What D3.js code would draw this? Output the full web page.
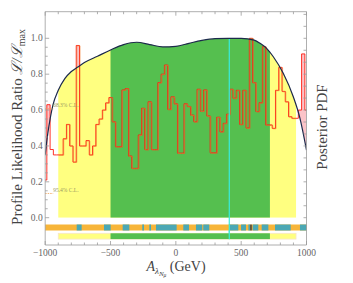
<!DOCTYPE html>
<html>
<head>
<meta charset="utf-8">
<script src="https://cdn.jsdelivr.net/npm/d3@7"></script>
<style>
  body { margin: 0; background: #fff; }
  svg text { font-family: "Liberation Serif", "DejaVu Serif", serif; }
</style>
</head>
<body>
<svg id="chart" width="353" height="283"></svg>
<script>
// --- data ---
// profile likelihood histogram, bins 25 GeV wide, centred on -1000, -975, ... 1000
const binCenters = d3.range(-1000, 1001, 25);
const profileLike = [
  0.21, 0.63, 0.38, 0.35, 0.35, 0.35, 0.44, 0.52, 0.40, 0.31,
  0.96, 0.40, 0.40, 0.43, 0.35, 0.40, 0.52, 0.55, 0.60, 0.64,
  0.67, 0.535, 0.396, 0.396, 0.712, 0.72, 0.344, 0.275, 0.275, 0.461,
  0.61, 0.38, 0.646, 0.38, 0.38, 0.753, 0.80, 0.851, 0.604, 0.674,
  0.635, 0.36, 0.36, 0.635, 0.62, 0.572, 0.535, 0.716, 0.594, 0.712,
  0.567, 0.362, 0.362, 0.56, 0.479, 0.526, 0.577, 0.716, 0.666, 0.71,
  0.52, 0.71, 0.50, 1.0, 0.753, 0.592, 0.641, 0.953, 0.517, 0.517,
  0.498, 0.71, 0.838, 0.704, 0.646, 0.563, 0.554, 0.554, 0.60, 0.913,
  0.60
];

// posterior pdf (scaled to max 1)
const pdfX = [-1000, -980, -960, -940, -900, -850, -800, -750, -700, -600, -500,
  -400, -300, -200, -100, 0, 100, 200, 300, 400, 500, 600, 645, 700, 746, 822, 899, 950, 1000];
const pdfY = [0.35, 0.47, 0.56, 0.63, 0.71, 0.775, 0.815, 0.84, 0.865, 0.90, 0.935,
  0.965, 0.978, 0.965, 0.952, 0.955, 0.972, 0.988, 0.998, 1.0, 1.0, 0.99, 0.972, 0.94, 0.897, 0.805, 0.674, 0.554, 0.377];

const ci68 = [-500, 720];
const ci95 = [-900, 920];
const bestFit = 409;
const bestFitMarker = 575;

// teal pieces of the orange strip
const tealStart = [-759, -550, -407, -257, -203, -152, 57, 154, 210, 409, 499, 555, 588, 657, 759, 950];
const tealEnd   = [-721, -499, -356, -244, -190, 6, 101, 202, 256, 478, 537, 568, 631, 708, 879, 1000];

const xTicks = [-1000, -500, 0, 500, 1000];
const yTicks = [0, 0.2, 0.4, 0.6, 0.8, 1.0];

// --- setup ---
const svg = d3.select("#chart");
const mLeft = 45.2, mRight = 306.5, mTop = 11.7, mBottom = 245;

const x = d3.scaleLinear().domain([-1000, 1000]).range([mLeft, mRight]);
const y = d3.scaleLinear().domain([0, 1]).range([217.7, 38.3]);
const yR = d3.scaleLinear().domain([0, 6]).range([217.7, 38.3]);

const pdf = pdfX.map((d, i) => ({ x: d, y: pdfY[i] }));
const hist = binCenters.map((d, i) => ({ x: d, y: profileLike[i] }));

const defs = svg.append("defs");
function clipRect(id, x0, x1, y0, y1) {
  defs.append("clipPath").attr("id", id).append("rect")
    .attr("x", x0).attr("y", y0).attr("width", x1 - x0).attr("height", y1 - y0);
}
clipRect("clip95", x(ci95[0]), x(ci95[1]), 0, y(0));
clipRect("clip68", x(ci68[0]), x(ci68[1]), 0, y(0));
clipRect("clipPlot", mLeft, mRight, mTop, mBottom);

// region above the posterior curve
const aboveArea = d3.area().curve(d3.curveMonotoneX)
  .x(d => x(d.x)).y0(mTop).y1(d => y(d.y));
defs.append("clipPath").attr("id", "clipAbove").append("path").attr("d", aboveArea(pdf));

const underArea = d3.area().curve(d3.curveMonotoneX)
  .x(d => x(d.x)).y0(y(0)).y1(d => y(d.y));

// 95% and 68% regions under the curve
svg.append("path").attr("d", underArea(pdf)).attr("fill", "#ffff80").attr("clip-path", "url(#clip95)");
svg.append("path").attr("d", underArea(pdf)).attr("fill", "#55bf4f").attr("clip-path", "url(#clip68)");

// histogram: pink where it pokes above the curve, then the red steps
const histArea = d3.area().curve(d3.curveStep)
  .x(d => x(d.x)).y0(y(0)).y1(d => y(d.y));
svg.append("g").attr("clip-path", "url(#clipAbove)")
  .append("path").attr("d", histArea(hist)).attr("fill", "#fbc3c8");

const histLine = d3.line().curve(d3.curveStep).x(d => x(d.x)).y(d => y(d.y));
svg.append("path").attr("d", histLine(hist))
  .attr("fill", "none").attr("stroke", "#ff1a10").attr("stroke-width", 0.9);
svg.append("path").attr("d", histLine(hist))
  .attr("transform", "translate(0.6,0.4)")
  .attr("fill", "none").attr("stroke", "#a8602e").attr("stroke-opacity", 0.7).attr("stroke-width", 0.9)
  .attr("clip-path", "url(#clip68)");
svg.append("path").attr("d", histLine(hist))
  .attr("transform", "translate(0.6,0.4)")
  .attr("fill", "none").attr("stroke", "#f07a30").attr("stroke-opacity", 0.6).attr("stroke-width", 0.9)
  .attr("clip-path", "url(#clip95)");

// best fit line
svg.append("line")
  .attr("x1", x(bestFit)).attr("x2", x(bestFit))
  .attr("y1", y(1.0)).attr("y2", 239)
  .attr("stroke", "#38ecdc").attr("stroke-width", 1.2);

// posterior curve
svg.append("path").attr("d", d3.line().curve(d3.curveMonotoneX).x(d => x(d.x)).y(d => y(d.y))(pdf))
  .attr("fill", "none").attr("stroke", "#1c2a4c").attr("stroke-width", 1.2)
  .attr("clip-path", "url(#clipPlot)");

// strips below
const strip = svg.append("g");
strip.append("rect").attr("x", mLeft).attr("y", 224.5).attr("width", mRight - mLeft).attr("height", 6)
  .attr("fill", "#f7b539");
strip.selectAll(".teal").data(tealStart).join("rect")
  .attr("x", d => x(d)).attr("y", 224.5)
  .attr("width", (d, i) => x(tealEnd[i]) - x(d)).attr("height", 6)
  .attr("fill", "#4ba8b4");
strip.append("rect").attr("x", x(bestFitMarker) - 0.6).attr("y", 224.5).attr("width", 1.2).attr("height", 6)
  .attr("fill", "#15203a");
strip.append("line").attr("x1", x(bestFit)).attr("x2", x(bestFit)).attr("y1", 224.5).attr("y2", 239)
  .attr("stroke", "#38ecdc").attr("stroke-width", 1.2);

strip.append("rect").attr("x", x(ci95[0])).attr("y", 233.3).attr("width", x(ci95[1]) - x(ci95[0])).attr("height", 5.8)
  .attr("fill", "#ffff80").attr("stroke", "#f8e6c8").attr("stroke-width", 0.8);
strip.append("rect").attr("x", x(ci68[0])).attr("y", 233.3).attr("width", x(ci68[1]) - x(ci68[0])).attr("height", 5.8)
  .attr("fill", "#55bf4f");
strip.append("line").attr("x1", x(bestFit)).attr("x2", x(bestFit)).attr("y1", 233).attr("y2", 239.2)
  .attr("stroke", "#38ecdc").attr("stroke-width", 1.2);

// confidence level markers
const clLevels = [0.607, 0.135];
const clNames = ["68.3% C.L.", "95.4% C.L."];
clLevels.forEach((v, i) => {
  svg.append("line").attr("x1", mLeft).attr("x2", mLeft + 8).attr("y1", y(v)).attr("y2", y(v))
    .attr("stroke", "#f0a050").attr("stroke-width", 0.8).attr("stroke-dasharray", "1.5,1");
  svg.append("text").attr("x", mLeft + 8).attr("y", y(v) - 1.5)
    .attr("font-size", 5.5).attr("fill", "#9a9a60").text(clNames[i]);
});

// --- frame and axes ---
const axisColor = "#9a9a9a";
const frame = svg.append("g").attr("stroke", axisColor).attr("stroke-width", 0.8).attr("fill", "none");
frame.append("line").attr("x1", mLeft).attr("x2", mLeft).attr("y1", mTop).attr("y2", mBottom);
frame.append("line").attr("x1", mRight).attr("x2", mRight).attr("y1", mTop).attr("y2", mBottom);
frame.append("line").attr("x1", mLeft).attr("x2", mRight).attr("y1", mTop).attr("y2", mTop);
frame.append("line").attr("x1", mLeft).attr("x2", mRight).attr("y1", mBottom).attr("y2", mBottom);

// x ticks (top and bottom, pointing inward)
const xMinor = d3.range(-1000, 1001, 100);
xMinor.forEach(v => {
  const len = xTicks.includes(v) ? 4 : 2.5;
  frame.append("line").attr("x1", x(v)).attr("x2", x(v)).attr("y1", mBottom).attr("y2", mBottom - len);
  frame.append("line").attr("x1", x(v)).attr("x2", x(v)).attr("y1", mTop).attr("y2", mTop + len);
});
svg.selectAll(".xlab").data(xTicks).join("text")
  .attr("x", d => x(d)).attr("y", 256)
  .attr("text-anchor", "middle").attr("font-size", 9.5).attr("fill", "#666")
  .text(d => d < 0 ? "\u2212" + Math.abs(d) : d);

// left y ticks
const yMinor = d3.range(0, 1.001, 0.05);
yMinor.forEach(v => {
  const major = Math.abs(v * 5 - Math.round(v * 5)) < 1e-6;
  frame.append("line").attr("x1", mLeft).attr("x2", mLeft + (major ? 4 : 2.5)).attr("y1", y(v)).attr("y2", y(v));
});
svg.selectAll(".ylab").data(yTicks).join("text")
  .attr("x", mLeft - 2.5).attr("y", d => y(d) + 3)
  .attr("text-anchor", "end").attr("font-size", 9.5).attr("fill", "#666")
  .text(d => d.toFixed(1));

// right ticks (posterior pdf, unlabelled)
d3.range(0, 6.81, 0.4).forEach(v => {
  frame.append("line").attr("x1", mRight).attr("x2", mRight - 3).attr("y1", yR(v)).attr("y2", yR(v));
});

// axis titles
const ylab = svg.append("text")
  .attr("transform", "translate(22,127) rotate(-90)")
  .attr("text-anchor", "middle").attr("font-size", 15).attr("fill", "#444");
ylab.append("tspan").text("Profile Likelihood Ratio ");
ylab.append("tspan").attr("font-style", "italic").text("\u2112/\u2112");
ylab.append("tspan").attr("font-size", 10).attr("dy", 3).text("max");

svg.append("text")
  .attr("transform", "translate(327,127) rotate(-90)")
  .attr("text-anchor", "middle").attr("font-size", 15).attr("fill", "#444")
  .text("Posterior PDF");

const xlab = svg.append("text").attr("x", 176).attr("y", 271)
  .attr("text-anchor", "middle").attr("font-size", 14).attr("fill", "#444");
xlab.append("tspan").attr("font-style", "italic").text("A");
xlab.append("tspan").attr("font-size", 9).attr("font-style", "italic").attr("dy", 3).text("\u03bb");
xlab.append("tspan").attr("font-size", 7).attr("font-style", "italic").attr("dy", 1.5).text("N");
xlab.append("tspan").attr("font-size", 5.5).attr("font-style", "italic").attr("dy", 1.5).text("\u03bc");
xlab.append("tspan").attr("dy", -6).text(" (GeV)");
</script>
</body>
</html>
